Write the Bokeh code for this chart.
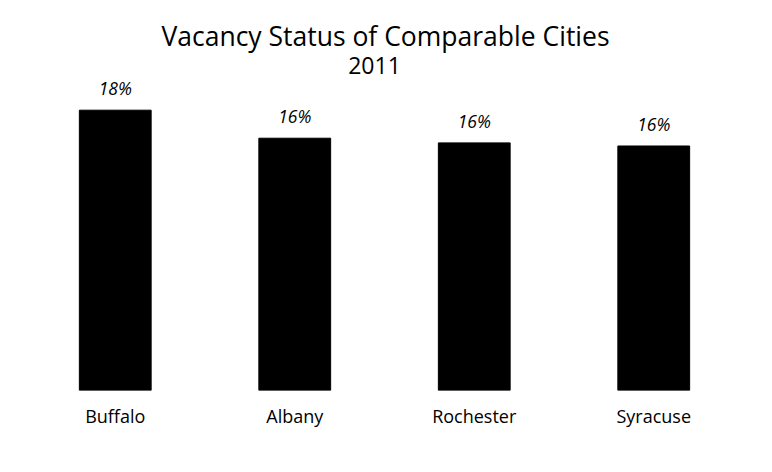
from bokeh.plotting import figure
from bokeh.models import ColumnDataSource, Range1d, Label, LabelSet
from bokeh.core.properties import value
from bokeh.embed import file_html
from bokeh.resources import INLINE

cities = ["Buffalo", "Albany", "Rochester", "Syracuse"]
vacancy = [18.0, 16.2, 15.9, 15.7]
labels = [f"{round(v)}%" for v in vacancy]
title_text = "Vacancy Status of Comparable Cities"
subtitle_text = "2011"

FONT = "Open Sans"

src = ColumnDataSource(dict(city=cities, v=vacancy, lab=labels))

p = figure(x_range=cities, y_range=Range1d(0, 24.4), width=764, height=464,
           output_backend="svg", toolbar_location=None,
           min_border_left=25, min_border_right=21, min_border_top=10, min_border_bottom=74)
p.vbar(x="city", top="v", width=0.40, source=src, color="black")

p.add_layout(LabelSet(x="city", y="v", text="lab", source=src, y_offset=10,
                      text_align="center", text_baseline="bottom",
                      text_font=value(FONT), text_font_size=value("17.5px"),
                      text_font_style=value("italic"), text_color="black"))

p.add_layout(Label(x=360, y=355, x_units="screen", y_units="screen", text=title_text,
                   text_align="center", text_baseline="middle", text_font=FONT,
                   text_font_size="26.5px", text_color="black"))
p.add_layout(Label(x=349, y=325, x_units="screen", y_units="screen", text=subtitle_text,
                   text_align="center", text_baseline="middle", text_font=FONT,
                   text_font_size="23px", text_color="black"))

p.yaxis.visible = False
p.xgrid.visible = False
p.ygrid.visible = False
p.outline_line_color = None
p.xaxis.axis_line_color = None
p.xaxis.major_tick_line_color = None
p.xaxis.minor_tick_line_color = None
p.xaxis.major_label_standoff = 7
p.xaxis.major_label_text_font = FONT
p.xaxis.major_label_text_font_size = "18px"
p.xaxis.major_label_text_color = "black"
p.x_range.range_padding = 0

open("out.html", "w").write(file_html(p, INLINE))
